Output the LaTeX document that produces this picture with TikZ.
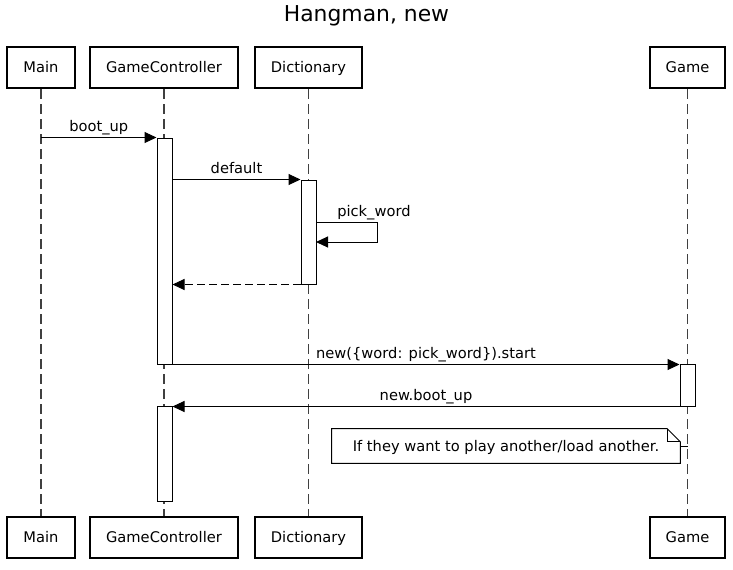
\documentclass[tikz,border=0pt]{standalone}
\usepackage{fontspec}
\setmainfont{DejaVu Sans}
\usetikzlibrary{arrows.meta,calc}
\begin{document}
\begin{tikzpicture}[x=0.75pt,y=-0.75pt,
  font=\fontsize{11}{13}\selectfont,
  actor/.style={draw,line width=1.5pt,minimum height=30.75pt,inner sep=0pt,fill=white,text height=8pt,text depth=0pt},
  life/.style={draw=black!75,line width=0.9pt,dash pattern=on 7.5pt off 3.75pt},
  actbar/.style={draw,line width=0.75pt,fill=white,minimum width=11.25pt,inner sep=0pt},
  msg/.style={line width=0.75pt,-{Triangle[length=9pt,width=8.25pt]}},
  ret/.style={msg,dash pattern=on 6pt off 3pt},
  lbl/.style={inner sep=0pt,anchor=base,yshift=4.5pt}]
\useasboundingbox (0,0) rectangle (733,569);
\node[font=\fontsize{16.4}{18}\selectfont] (title) at (366.5,16) {Hangman, new};
% top actors
\node[actor,minimum width=51pt] (mainT) at (41,67.5) {Main};
\node[actor,minimum width=111pt] (gcT) at (164,67.5) {GameController};
\node[actor,minimum width=80.25pt] (dictT) at (308.5,67.5) {Dictionary};
\node[actor,minimum width=56.25pt] (gameT) at (687.5,67.5) {Game};
% bottom actors
\node[actor,minimum width=51pt] (mainB) at (41,537) {Main};
\node[actor,minimum width=111pt] (gcB) at (164,537) {GameController};
\node[actor,minimum width=80.25pt] (dictB) at (308.5,537) {Dictionary};
\node[actor,minimum width=56.25pt] (gameB) at (687.5,537) {Game};
% lifelines
\draw[life] (mainT.south) -- (mainB.north);
\draw[life] (gcT.south) -- (gcB.north);
\draw[life] (dictT.south) -- (dictB.north);
\draw[life] (gameT.south) -- (gameB.north);
% activations
\node[actbar,minimum height=169.5pt] (gc1) at (164.5,251) {};
\node[actbar,minimum height=78pt] (d1) at (308.5,232) {};
\node[actbar,minimum height=31.5pt] (g1) at (687.5,385) {};
\node[actbar,minimum height=71.25pt] (gc2) at (164.5,453.5) {};
% boot_up
\coordinate (m1) at (mainT.south |- gc1.north);
\draw[msg] (m1) -- node[lbl] {boot\_up} (gc1.north west);
% default
\coordinate (gcDef) at (gc1.east |- d1.north);
\draw[msg] (gcDef) -- node[lbl] {default} (d1.north west);
% pick_word self message
\coordinate (pw1) at (316,222);
\coordinate (pw2) at (316,242);
\draw[msg] (pw1) -- (377,222) -- (377,242) -- (pw2);
\node[inner sep=0pt,anchor=base west] (pwl) at (337,216) {pick\_word};
% return
\coordinate (retE) at (gc1.east |- d1.south);
\draw[ret] (d1.south west) -- (retE);
% new start
\coordinate (gStart) at (g1.west |- gc1.south);
\draw[msg] (gc1.south east) -- node[lbl] {new(\{word: pick\_word\}).start} (gStart);
% new.boot_up
\coordinate (gcBoot) at (gc2.east |- g1.south);
\draw[msg] (g1.south west) -- node[lbl] {new.boot\_up} (gcBoot);
% note
\node[minimum width=261pt,minimum height=25.5pt,inner sep=0pt] (note) at (506,446) {};
\draw[line width=0.75pt,fill=white] (note.north west) -- ($(note.north east)+(-13,0)$) -- ($(note.north east)+(0,13)$) -- (note.south east) -- (note.south west) -- cycle;
\draw[line width=0.75pt] ($(note.north east)+(-13,0)$) -- ($(note.north east)+(-13,13)$) -- ($(note.north east)+(0,13)$);
\node[inner sep=0pt,text height=8pt,text depth=0pt] (notetext) at (note.center) {If they want to play another/load another.};
\coordinate (noteL) at (gameT.south |- note.east);
\draw[line width=0.75pt] (note.east) -- (noteL);
\end{tikzpicture}
\end{document}
